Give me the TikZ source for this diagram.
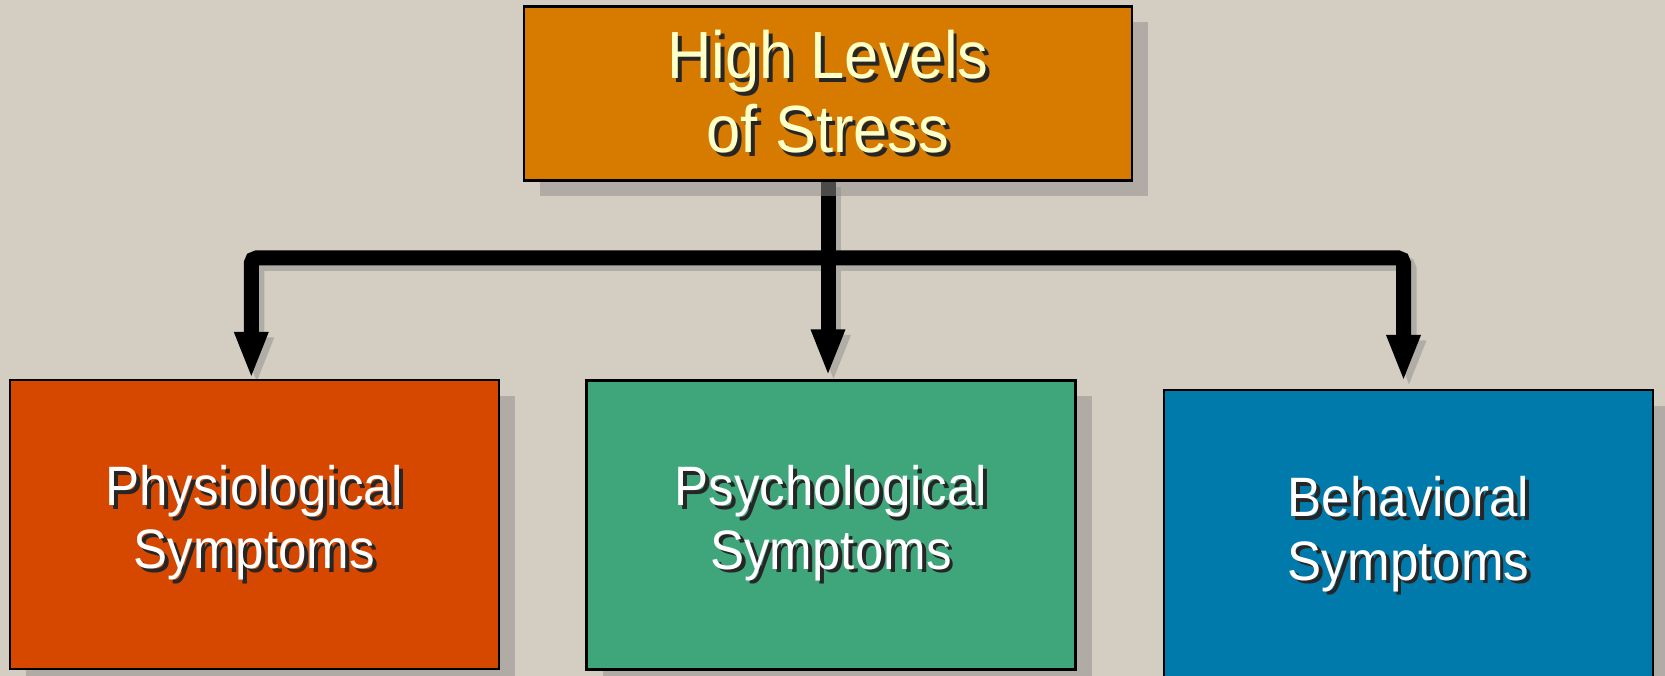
\documentclass[tikz,border=0pt]{standalone}
\usepackage{fontspec}
\setmainfont{Liberation Sans}[FakeStretch=0.92]
\usetikzlibrary{arrows.meta,backgrounds,shadows}

\definecolor{fundo}{RGB}{212,206,194}
\definecolor{laranja}{RGB}{214,122,0}
\definecolor{vermelho}{RGB}{214,72,0}
\definecolor{verde}{RGB}{63,166,124}
\definecolor{azul}{RGB}{0,121,171}
\definecolor{sombra}{RGB}{143,142,140}
\definecolor{sombraseta}{RGB}{176,173,166}
\definecolor{creme}{RGB}{255,255,200}

% texto com sombra
\newcommand{\sombreado}[1]{\leavevmode\rlap{\kern1.1pt\raisebox{-1.1pt}{\color{black!85}#1}}#1}

\begin{document}
\begin{tikzpicture}[
    caixa/.style={draw=black, line width=0.7pt, inner sep=0pt, align=center,
        drop shadow={shadow xshift=0.16cm, shadow yshift=-0.16cm, opacity=0.52, fill=sombra}},
    sintoma/.style={caixa, text=white, minimum width=4.89cm, minimum height=2.89cm,
        font=\fontsize{15.8}{18}\selectfont},
    seta/.style={line width=0.15cm, -{Triangle[length=0.47cm,width=0.31cm]}}
]
    \useasboundingbox (0,0) rectangle (16.65,6.76);

    % Causa
    \node[caixa, fill=laranja, text=creme, minimum width=6.085cm, minimum height=1.74cm,
        font=\fontsize{19}{21}\selectfont] (stress) at (8.28,5.825)
        {\sombreado{High Levels}\\\sombreado{of Stress}};

    % Sintomas
    \node[sintoma, fill=vermelho] (physio) at (2.543,1.515)
        {\sombreado{Physiological}\\\sombreado{Symptoms}};
    \node[sintoma, fill=verde] (psycho) at (8.31,1.51)
        {\sombreado{Psychological}\\\sombreado{Symptoms}};
    \node[sintoma, fill=azul, minimum height=2.92cm] (behav) at (14.085,1.40)
        {\sombreado{Behavioral}\\\sombreado{Symptoms}};

    \coordinate (barra) at (0,4.18);

    % Setas (sombra primeiro)
    \begin{pgfonlayer}{background}
        \fill[fundo] (0,0) rectangle (16.65,6.76);
        \foreach \cor/\desl in {sombraseta/0.055, black/0} {
            \begin{scope}[transform canvas={shift={(\desl,-\desl)}}, color=\cor]
                \draw[seta] (stress.south) -- ([yshift=0.03cm]stress.south |- psycho.north);
                \draw[seta, rounded corners=1.5pt] (stress.south |- barra) -| ([xshift=-0.03cm]physio.north);
                \draw[seta, rounded corners=1.5pt] (stress.south |- barra) -| ([xshift=-0.05cm,yshift=0.07cm]behav.north);
            \end{scope}
        }
    \end{pgfonlayer}
\end{tikzpicture}
\end{document}
